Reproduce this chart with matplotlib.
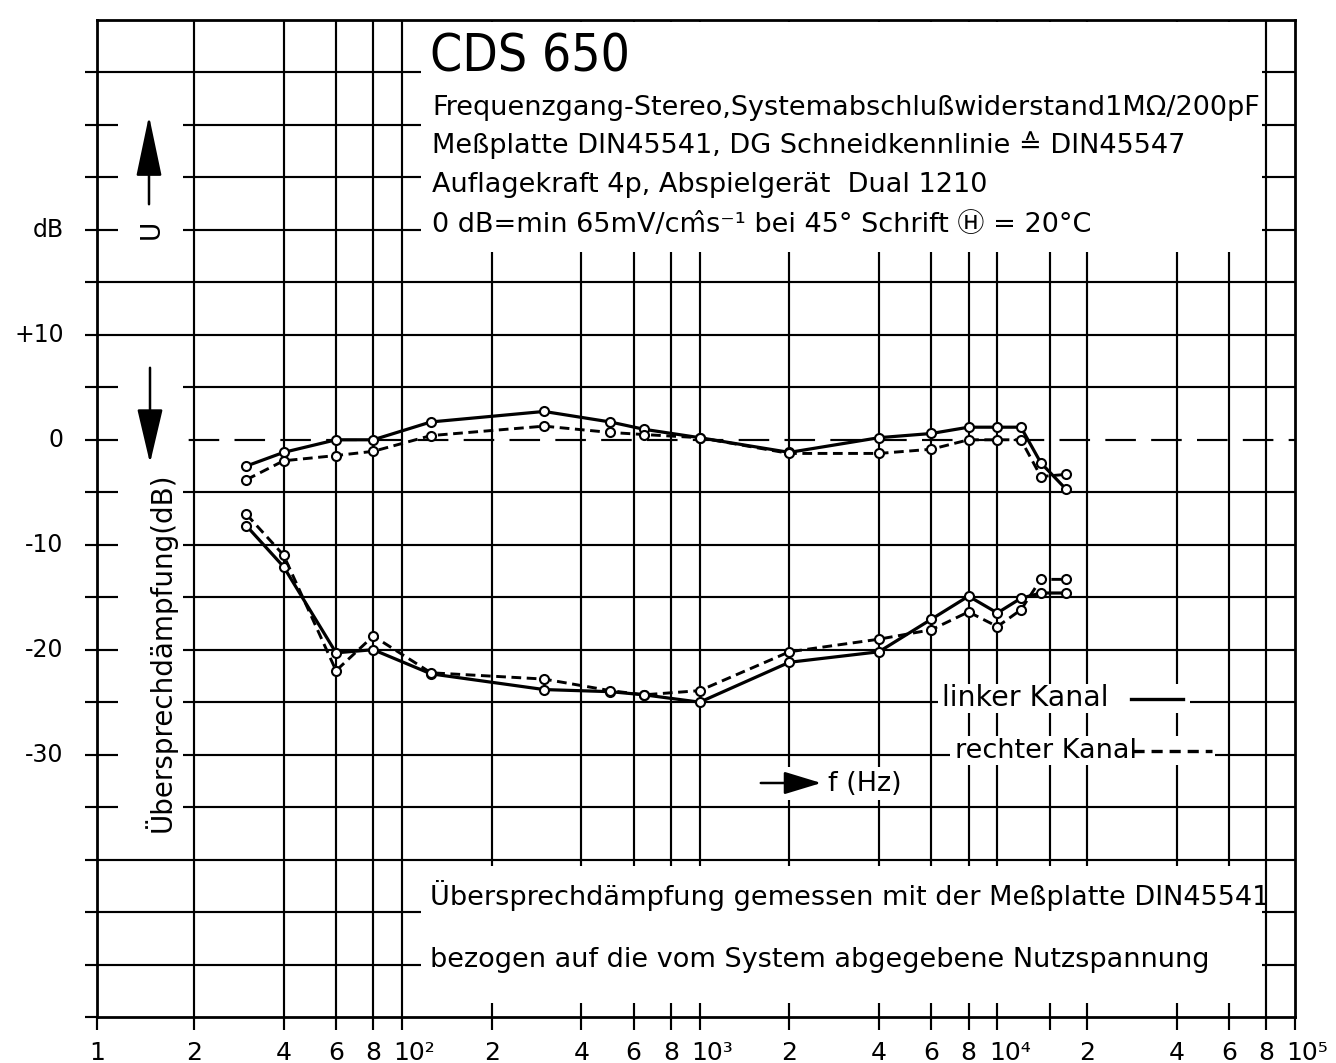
import matplotlib
matplotlib.use("Agg")
import matplotlib.pyplot as plt
from matplotlib.patches import Rectangle, FancyArrowPatch
from matplotlib.lines import Line2D

plt.rcParams['font.family'] = ['DejaVu Sans', 'Noto Sans CJK JP']
plt.rcParams['lines.scale_dashes'] = False

# ---------------- data ----------------
freqs = [30, 40, 60, 80, 125, 300, 500, 650, 1000, 2000, 4000, 6000, 8000, 10000, 12000, 14000, 17000]
# frequency response (upper curves)
fr_left = [-2.5, -1.2, 0.0, 0.0, 1.7, 2.7, 1.7, 1.0, 0.2, -1.2, 0.2, 0.6, 1.2, 1.2, 1.2, -2.2, -4.7]
fr_right = [-3.8, -2.0, -1.5, -1.1, 0.4, 1.3, 0.7, 0.5, 0.2, -1.3, -1.3, -0.9, 0.0, 0.0, 0.0, -3.5, -3.3]
# crosstalk attenuation (lower curves)
ct_left = [-8.2, -12.1, -20.3, -20.0, -22.3, -23.8, -24.0, -24.3, -25.0, -21.2, -20.2, -17.1, -14.9, -16.5, -15.1, -14.6, -14.6]
ct_right = [-7.1, -11.0, -22.0, -18.7, -22.2, -22.8, -23.9, -24.3, -23.9, -20.2, -19.0, -18.1, -16.4, -17.8, -16.2, -13.3, -13.3]

x_left_edge = 10 ** 0.975
grid_freqs = [20, 40, 60, 80, 100, 200, 400, 600, 800, 1000, 2000, 4000, 6000, 8000,
              10000, 15000, 20000, 40000, 60000, 80000]
x_label_pos = [x_left_edge, 20, 40, 60, 80, 100, 200, 400, 600, 800, 1000, 2000, 4000, 6000,
               8000, 10000, 20000, 40000, 60000, 80000, 100000]
x_labels = ["1", "2", "4", "6", "8", "10²", "2", "4", "6", "8", "10³", "2", "4", "6", "8",
            "10⁴", "2", "4", "6", "8", "10⁵"]
y_label_pos = [20, 10, 0, -10, -20, -30]
y_labels = ["dB", "+10", "0", "-10", "-20", "-30"]

# ---------------- figure ----------------
W, H = 1336, 1063
def fx(x):
    return x / W
def fy(y):
    return 1 - y / H

fig = plt.figure(figsize=(W / 100, H / 100), dpi=100)
fig.patch.set_facecolor("white")
ax = fig.add_axes([fx(97), fy(1017), fx(1295) - fx(97), fy(20) - fy(1017)])
ax.set_xscale("log")
ax.set_xlim(x_left_edge, 1e5)
ax.set_ylim(-55, 40)
ax.minorticks_off()

for s in ax.spines.values():
    s.set_linewidth(2.0)

GL = 1.55
for f in grid_freqs:
    ax.axvline(f, color="k", lw=GL, zorder=1)
for lev in range(-50, 40, 5):
    if lev == 0:
        ax.axhline(0, color="k", lw=GL, zorder=1, dashes=(22, 11))
    else:
        ax.axhline(lev, color="k", lw=GL, zorder=1)

# ticks
ax.set_xticks(grid_freqs + [x_left_edge, 1e5])
ax.set_xticklabels([])
ax.set_yticks(list(range(-55, 40, 5)))
ax.set_yticklabels([])
ax.tick_params(axis="x", direction="out", length=9, width=GL)
ax.tick_params(axis="y", direction="out", length=9, width=GL)

for pos, lab in zip(x_label_pos, x_labels):
    if lab.startswith("10"):
        ax.annotate(lab, xy=(pos, 0), xycoords=("data", "axes fraction"),
                    xytext=(-6, -17), textcoords="offset points", ha="left", va="top",
                    fontsize=18)
    else:
        ax.annotate(lab, xy=(pos, 0), xycoords=("data", "axes fraction"),
                    xytext=(0, -17), textcoords="offset points", ha="center", va="top",
                    fontsize=18)
for pos, lab in zip(y_label_pos, y_labels):
    ax.annotate(lab, xy=(0, pos), xycoords=("axes fraction", "data"),
                xytext=(-24, 0), textcoords="offset points", ha="right", va="center",
                fontsize=17)

# white areas (gaps in the graph paper)
def white(x0, y0, x1, y1, z=1.5):
    ax.add_patch(Rectangle((fx(x0), fy(y1)), fx(x1) - fx(x0), fy(y0) - fy(y1),
                           transform=fig.transFigure, fc="white", ec="none",
                           zorder=z, clip_on=False))

white(421, 22, 1262, 252)     # top text box
white(421, 866, 1262, 1003)   # bottom text box
white(118, 100, 183, 250)     # U arrow
white(118, 365, 183, 836)     # Übersprechdämpfung label
white(752, 767, 922, 800)     # f (Hz)
white(938, 684, 1190, 713)    # linker Kanal
white(950, 736, 1215, 765)    # rechter Kanal

# curves
mk = dict(marker="o", ms=6.5, mfc="white", mec="k", mew=1.5)
ax.plot(freqs, fr_left, color="k", lw=2.3, zorder=4, **mk)
ax.plot(freqs, fr_right, color="k", lw=2.1, zorder=4, dashes=(7, 4), **mk)
ax.plot(freqs, ct_left, color="k", lw=2.3, zorder=4, **mk)
ax.plot(freqs, ct_right, color="k", lw=2.1, zorder=4, dashes=(7, 4), **mk)

# ---------------- texts ----------------
fig.text(fx(430), fy(72), "CDS 650", fontsize=37, fontstretch="condensed",
         ha="left", va="baseline")
info = ["Frequenzgang-Stereo,Systemabschlußwiderstand1MΩ/200pF",
        "Meßplatte DIN45541, DG Schneidkennlinie ≙ DIN45547",
        "Auflagekraft 4p, Abspielgerät  Dual 1210",
        "0 dB=min 65mV/cm\u0302s⁻¹ bei 45° Schrift Ⓗ = 20°C"]
for t, yb in zip(info, [115, 153, 192, 232]):
    fig.text(fx(432), fy(yb), t, fontsize=19.5, ha="left", va="baseline",
             family=['DejaVu Sans', 'Noto Sans CJK JP'])

fig.text(fx(430), fy(905), "Übersprechdämpfung gemessen mit der Meßplatte DIN45541",
         fontsize=19.5, ha="left", va="baseline")
fig.text(fx(430), fy(967), "bezogen auf die vom System abgegebene Nutzspannung",
         fontsize=19.5, ha="left", va="baseline")

# left axis annotations
fig.text(fx(152), fy(229), "U", fontsize=19, rotation=90, ha="center", va="center")
fig.add_artist(FancyArrowPatch((fx(149), fy(207)), (fx(149), fy(113)),
                               transform=fig.transFigure,
                               arrowstyle="-|>,head_length=1.9,head_width=0.4",
                               mutation_scale=20, lw=1.8, color="k"))
fig.add_artist(FancyArrowPatch((fx(150), fy(365)), (fx(150), fy(466)),
                               transform=fig.transFigure,
                               arrowstyle="-|>,head_length=1.7,head_width=0.4",
                               mutation_scale=20, lw=1.8, color="k"))
fig.text(fx(160), fy(652), "Übersprechdämpfung(dB)", fontsize=20, rotation=90,
         ha="center", va="center")

# f (Hz)
fig.add_artist(FancyArrowPatch((fx(758), fy(783)), (fx(824), fy(783)),
                               transform=fig.transFigure,
                               arrowstyle="-|>,head_length=1.15,head_width=0.35",
                               mutation_scale=20, lw=1.8, color="k"))
fig.text(fx(828), fy(791), "f (Hz)", fontsize=19.5, ha="left", va="baseline")

# legend
fig.text(fx(942), fy(706), "linker Kanal", fontsize=20.5, ha="left", va="baseline")
fig.add_artist(Line2D([fx(1131), fx(1183)], [fy(699), fy(699)], color="k", lw=2.4))
fig.text(fx(955), fy(758), "rechter Kanal", fontsize=19.5, ha="left", va="baseline")
fig.add_artist(Line2D([fx(1133), fx(1212)], [fy(751), fy(751)], color="k", lw=2.4,
                      dashes=(8, 5)))

fig.savefig("out.png", dpi=100, facecolor="white")
